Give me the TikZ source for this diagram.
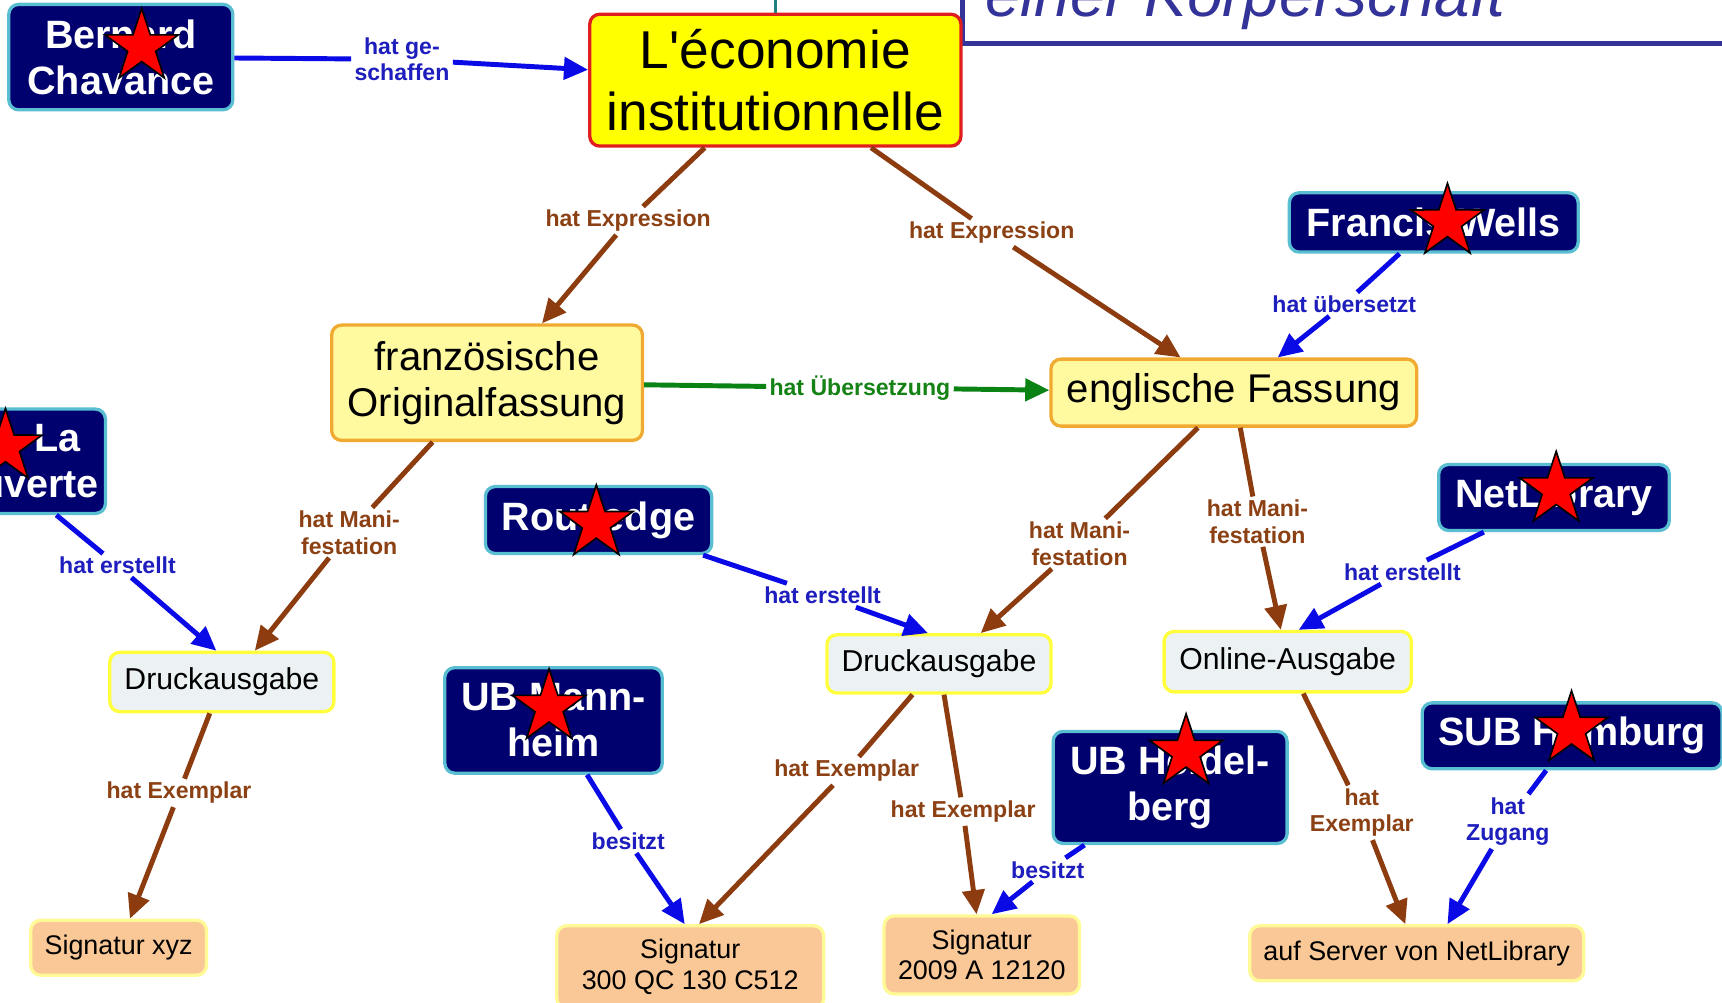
\documentclass[tikz,border=0pt]{standalone}
\usepackage{fontspec}
\setmainfont{Liberation Sans}[Ligatures=TeXOff]
\usetikzlibrary{arrows.meta,shapes.geometric}
\definecolor{navyfill}{RGB}{0,0,110}
\definecolor{navyedge}{RGB}{90,190,210}
\definecolor{mainyellow}{RGB}{255,255,0}
\definecolor{rededge}{RGB}{225,30,30}
\definecolor{lightyellow}{RGB}{255,250,160}
\definecolor{orangeedge}{RGB}{240,170,50}
\definecolor{greyfill}{RGB}{236,242,244}
\definecolor{yellowedge}{RGB}{255,255,60}
\definecolor{peach}{RGB}{250,200,150}
\definecolor{paleedge}{RGB}{255,250,150}
\definecolor{lineblue}{RGB}{10,10,230}
\definecolor{labblue}{RGB}{30,30,190}
\definecolor{linebrown}{RGB}{140,60,15}
\definecolor{labbrown}{RGB}{140,65,20}
\definecolor{linegreen}{RGB}{10,130,20}
\definecolor{labgreen}{RGB}{20,130,20}
\definecolor{titleblue}{RGB}{51,51,153}
\definecolor{tealc}{RGB}{32,128,128}
\begin{document}
\begin{tikzpicture}[x=1pt,y=-1pt,
 navybox/.style={draw=navyedge, fill=navyfill, line width=3pt, rounded corners=9pt, text=white, font={\fontsize{36}{42}\selectfont\bfseries}, align=center, inner sep=0pt},
 mainbox/.style={draw=rededge, fill=mainyellow, line width=3pt, rounded corners=9pt, font={\fontsize{48.5}{56}\selectfont}, align=center, inner sep=0pt},
 exprbox/.style={draw=orangeedge, fill=lightyellow, line width=3pt, rounded corners=9pt, font={\fontsize{36.5}{42}\selectfont}, align=center, inner sep=0pt},
 manibox/.style={draw=yellowedge, fill=greyfill, line width=3pt, rounded corners=9pt, font={\fontsize{27.5}{32}\selectfont}, align=center, inner sep=0pt},
 itembox/.style={draw=paleedge, fill=peach, line width=3pt, rounded corners=9pt, font={\fontsize{24.5}{28}\selectfont}, align=center, inner sep=0pt},
 lab/.style={font={\fontsize{21}{24}\selectfont\bfseries}, align=center, inner sep=3pt},
 bluelab/.style={lab, text=labblue},
 brownlab/.style={lab, text=labbrown},
 greenlab/.style={lab, text=labgreen},
 arrowend/.style={-{Triangle[length=22pt,width=20pt]}},
 bluec/.style={draw=lineblue, line width=4.5pt},
 brownc/.style={draw=linebrown, line width=4.5pt},
 greenc/.style={draw=linegreen, line width=4.5pt},
 tealline/.style={draw=tealc, line width=3pt},
 redstar/.style={star, star points=5, star point ratio=2.6, fill=red, draw=black, line width=1.5pt, minimum size=70pt, inner sep=0pt}
]
\useasboundingbox (0,0) rectangle (1568,913);
\clip (0,0) rectangle (1568,913);
\fill[white] (0,0) rectangle (1568,913);

% title fragment
\draw[draw=titleblue, line width=4.5pt] (876,-60) rectangle (1700,40);
\node[anchor=base west, inner sep=0pt, text=titleblue, font={\fontsize{58}{60}\selectfont\itshape}] (ttl) at (897,15) {einer Körperschaft};

% boxes
\node[mainbox, minimum width=338pt, minimum height=120pt] (LE) at (706,73) {L'économie\\institutionnelle};
\coordinate (tealtop) at (706,-10);
\draw[tealline] (tealtop) -- (LE.north);

\node[navybox, minimum width=204pt, minimum height=96pt] (BC) at (110,52) {Bernard\\Chavance};
\node[navybox, minimum width=208pt, minimum height=95pt] (LD) at (-8,420) {\makebox[162pt][r]{La}\\Découverte};
\node[navybox, minimum width=206pt, minimum height=61pt] (RT) at (545,473.5) {Routledge};
\node[navybox, minimum width=263pt, minimum height=54pt] (FW) at (1305.5,202.5) {Francis Wells};
\node[navybox, minimum width=210pt, minimum height=60pt] (NL) at (1415,453) {NetLibrary};
\node[navybox, minimum width=198pt, minimum height=96pt] (UM) at (504,656) {UB Mann-\\heim};
\node[navybox, minimum width=213pt, minimum height=102pt] (UH) at (1065.5,717) {UB Heidel-\\berg};
\node[navybox, minimum width=273pt, minimum height=60pt] (SH) at (1431.5,670) {SUB Hamburg};

\node[exprbox, minimum width=283pt, minimum height=105pt] (FO) at (443.5,348.5) {französische\\Originalfassung};
\node[exprbox, minimum width=333pt, minimum height=61pt] (EF) at (1123.5,357.5) {englische Fassung};
\node[manibox, minimum width=204pt, minimum height=54pt] (DL) at (202,621) {Druckausgabe};
\node[manibox, minimum width=204pt, minimum height=53pt] (DM) at (855,604.5) {Druckausgabe};
\node[manibox, minimum width=225pt, minimum height=55pt] (ON) at (1172.5,602.5) {Online-Ausgabe};
\node[itembox, minimum width=160pt, minimum height=50pt] (SX) at (108,863) {Signatur xyz};
\node[itembox, minimum width=243pt, minimum height=75pt] (SA) at (628.5,880.5) {Signatur\\300 QC 130 C512};
\node[itembox, minimum width=178pt, minimum height=71pt] (SB) at (894,869.5) {Signatur\\2009 A 12120};
\node[itembox, minimum width=304pt, minimum height=50pt] (AS) at (1290,868) {auf Server von NetLibrary};

% labels
\node[bluelab] (L1) at (366,54) {hat ge-\\schaffen};
\node[brownlab] (L2) at (572,201) {hat Expression};
\node[brownlab] (L3) at (903,212) {hat Expression};
\node[greenlab] (L4) at (783,353) {hat Übersetzung};
\node[bluelab] (L5) at (1224,277) {hat übersetzt};
\node[bluelab] (L6) at (107,515) {hat erstellt};
\node[brownlab] (L7) at (318,485) {hat Mani-\\festation};
\node[bluelab] (L8) at (749,542) {hat erstellt};
\node[brownlab] (L9) at (983,495) {hat Mani-\\festation};
\node[brownlab] (L10) at (1145,475) {hat Mani-\\festation};
\node[bluelab] (L11) at (1277,521) {hat erstellt};
\node[brownlab] (L12) at (163,722) {hat Exemplar};
\node[brownlab] (L13) at (771,702) {hat Exemplar};
\node[brownlab] (L14) at (877,739) {hat Exemplar};
\node[bluelab] (L15) at (572,766) {besitzt};
\node[bluelab] (L16) at (954,792) {besitzt};
\node[brownlab] (L17) at (1240,740) {hat\\Exemplar};
\node[bluelab] (L18) at (1373,748) {hat\\Zugang};

% connectors
\draw[bluec] (BC) -- (L1);
\draw[bluec, arrowend] (L1) -- (LE);
\draw[brownc] (LE) -- (L2);
\draw[brownc, arrowend] (L2) -- ([xshift=50pt]FO.north);
\draw[brownc] (LE) -- (L3);
\draw[brownc, arrowend] (L3) -- (EF);
\draw[greenc] (FO) -- (L4);
\draw[greenc, arrowend] (L4) -- (EF);
\draw[bluec] (FW) -- (L5);
\draw[bluec, arrowend] (L5) -- (EF);
\draw[bluec] (LD) -- (L6);
\draw[bluec, arrowend] (L6) -- ([xshift=-5pt]DL.north);
\draw[brownc] (FO) -- (L7);
\draw[brownc, arrowend] (L7) -- ([xshift=30pt]DL.north);
\draw[bluec] (RT) -- (L8);
\draw[bluec, arrowend] (L8) -- ([xshift=-10pt]DM.north);
\draw[brownc] (EF) -- (L9);
\draw[brownc, arrowend] (L9) -- ([xshift=38pt]DM.north);
\draw[brownc] (EF) -- (L10);
\draw[brownc, arrowend] (L10) -- (ON);
\draw[bluec] (NL) -- (L11);
\draw[bluec, arrowend] (L11) -- ([xshift=10pt]ON.north);
\draw[brownc] (DL) -- (L12);
\draw[brownc, arrowend] (L12) -- (SX);
\draw[brownc] (DM) -- (L13);
\draw[brownc, arrowend] (L13) -- ([xshift=8pt]SA.north);
\draw[brownc] (DM) -- (L14);
\draw[brownc, arrowend] (L14) -- (SB);
\draw[bluec] (UM) -- (L15);
\draw[bluec, arrowend] (L15) -- ([xshift=-5pt]SA.north);
\draw[bluec] (UH) -- (L16);
\draw[bluec, arrowend] (L16) -- ([xshift=9pt]SB.north);
\draw[brownc] (ON) -- (L17);
\draw[brownc, arrowend] (L17) -- (AS);
\draw[bluec] (SH) -- (L18);
\draw[bluec, arrowend] (L18) -- ([xshift=28pt]AS.north);

% stars
\node[redstar] (st1) at (129,42.6) {};
\node[redstar] (st2) at (5,407) {};
\node[redstar] (st3) at (543,476.6) {};
\node[redstar] (st4) at (500,644) {};
\node[redstar] (st5) at (1318,202) {};
\node[redstar] (st6) at (1417,446) {};
\node[redstar] (st7) at (1080,685) {};
\node[redstar] (st8) at (1431,664) {};
\end{tikzpicture}
\end{document}
